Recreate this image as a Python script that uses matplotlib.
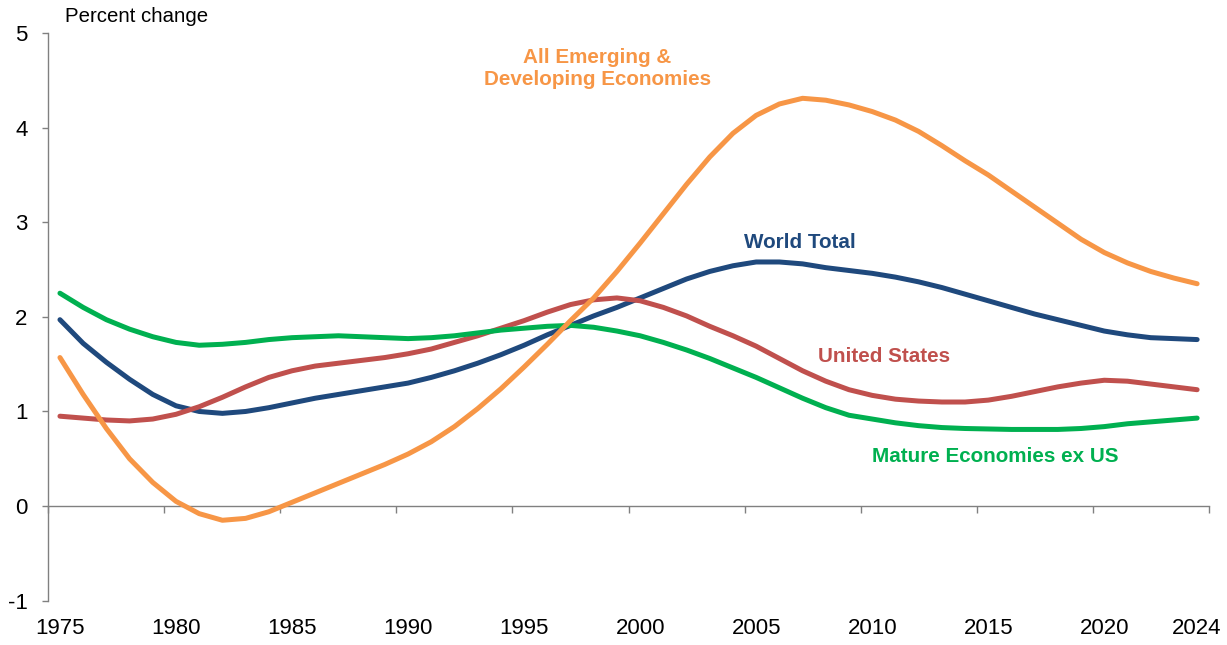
import matplotlib
matplotlib.use("Agg")
import matplotlib.pyplot as plt
import numpy as np

plt.rcParams['font.family'] = ['Liberation Sans', 'DejaVu Sans']

years = list(range(1975, 2025))

emerging = [1.57, 1.18, 0.82, 0.50, 0.25, 0.05, -0.08, -0.15, -0.13, -0.06,
            0.04, 0.14, 0.24, 0.34, 0.44, 0.55, 0.68, 0.84, 1.03, 1.24,
            1.47, 1.71, 1.96, 2.20, 2.48, 2.78, 3.09, 3.40, 3.69, 3.94,
            4.13, 4.25, 4.31, 4.29, 4.24, 4.17, 4.08, 3.96, 3.81, 3.65,
            3.50, 3.33, 3.16, 2.99, 2.82, 2.68, 2.57, 2.48, 2.41, 2.35]

world = [1.97, 1.72, 1.52, 1.34, 1.18, 1.06, 1.00, 0.98, 1.00, 1.04,
         1.09, 1.14, 1.18, 1.22, 1.26, 1.30, 1.36, 1.43, 1.51, 1.60,
         1.70, 1.81, 1.91, 2.01, 2.10, 2.20, 2.30, 2.40, 2.48, 2.54,
         2.58, 2.58, 2.56, 2.52, 2.49, 2.46, 2.42, 2.37, 2.31, 2.24,
         2.17, 2.10, 2.03, 1.97, 1.91, 1.85, 1.81, 1.78, 1.77, 1.76]

us = [0.95, 0.93, 0.91, 0.90, 0.92, 0.97, 1.05, 1.15, 1.26, 1.36,
      1.43, 1.48, 1.51, 1.54, 1.57, 1.61, 1.66, 1.73, 1.80, 1.88,
      1.96, 2.05, 2.13, 2.18, 2.20, 2.17, 2.10, 2.01, 1.90, 1.80,
      1.69, 1.56, 1.43, 1.32, 1.23, 1.17, 1.13, 1.11, 1.10, 1.10,
      1.12, 1.16, 1.21, 1.26, 1.30, 1.33, 1.32, 1.29, 1.26, 1.23]

mature = [2.25, 2.10, 1.97, 1.87, 1.79, 1.73, 1.70, 1.71, 1.73, 1.76,
          1.78, 1.79, 1.80, 1.79, 1.78, 1.77, 1.78, 1.80, 1.83, 1.86,
          1.88, 1.90, 1.91, 1.89, 1.85, 1.80, 1.73, 1.65, 1.56, 1.46,
          1.36, 1.25, 1.14, 1.04, 0.96, 0.92, 0.88, 0.85, 0.83, 0.82,
          0.815, 0.81, 0.81, 0.81, 0.82, 0.84, 0.87, 0.89, 0.91, 0.93]

xtick_labels = ['1975', '1980', '1985', '1990', '1995', '2000', '2005',
                '2010', '2015', '2020', '2024']
yticks = [-1, 0, 1, 2, 3, 4, 5]

c_orange = '#F79646'
c_blue = '#1F497D'
c_red = '#C0504D'
c_green = '#00B050'
c_axis = '#808080'

fig = plt.figure(figsize=(12.27, 6.45), dpi=100)
ax = fig.add_axes([0.0394, 0.0687, 0.9457, 0.8801])

lw = 3.6
kw = dict(lw=lw, solid_capstyle='round', solid_joinstyle='round')
ax.plot(years, world, color=c_blue, **kw)
ax.plot(years, us, color=c_red, **kw)
ax.plot(years, mature, color=c_green, **kw)
ax.plot(years, emerging, color=c_orange, **kw)

ax.set_xlim(1974.5, 2024.5)
ax.set_ylim(-1, 5)

for s in ['top', 'right', 'bottom']:
    ax.spines[s].set_visible(False)
ax.spines['left'].set_color(c_axis)
ax.spines['left'].set_linewidth(1.0)

ax.set_yticks(yticks)
ax.set_yticklabels([str(v) for v in yticks])
ax.tick_params(axis='y', direction='out', length=4.5, width=1.0,
               color=c_axis, labelsize=16, pad=10.5)

ax.set_xticks([int(t) for t in xtick_labels])
ax.set_xticklabels(xtick_labels)
ax.tick_params(axis='x', length=0, labelsize=16, pad=12.5)

# zero line with category boundary tick marks
sec = ax.secondary_xaxis(1 / 6)
sec.spines['bottom'].set_color(c_axis)
sec.spines['bottom'].set_linewidth(1.0)
sec.set_xticks(list(np.arange(1974.5, 2025, 5)))
sec.set_xticklabels([])
sec.tick_params(axis='x', direction='out', length=5, width=1.0, color=c_axis)

fig.text(65 / 1227, 1 - 17 / 645, 'Percent change', fontsize=14.7,
         ha='left', va='center')

fs = 14.9
ax.text(1998.16, 4.62, 'All Emerging &\nDeveloping Economies', color=c_orange,
        fontsize=fs, fontweight='bold', ha='center', va='center',
        linespacing=1.2)
ax.text(2006.9, 2.79, 'World Total', color=c_blue, fontsize=fs,
        fontweight='bold', ha='center', va='center')
ax.text(2010.5, 1.58, 'United States', color=c_red, fontsize=fs,
        fontweight='bold', ha='center', va='center')
ax.text(2015.3, 0.52, 'Mature Economies ex US', color=c_green, fontsize=fs,
        fontweight='bold', ha='center', va='center')

fig.savefig('out.png', dpi=100)
